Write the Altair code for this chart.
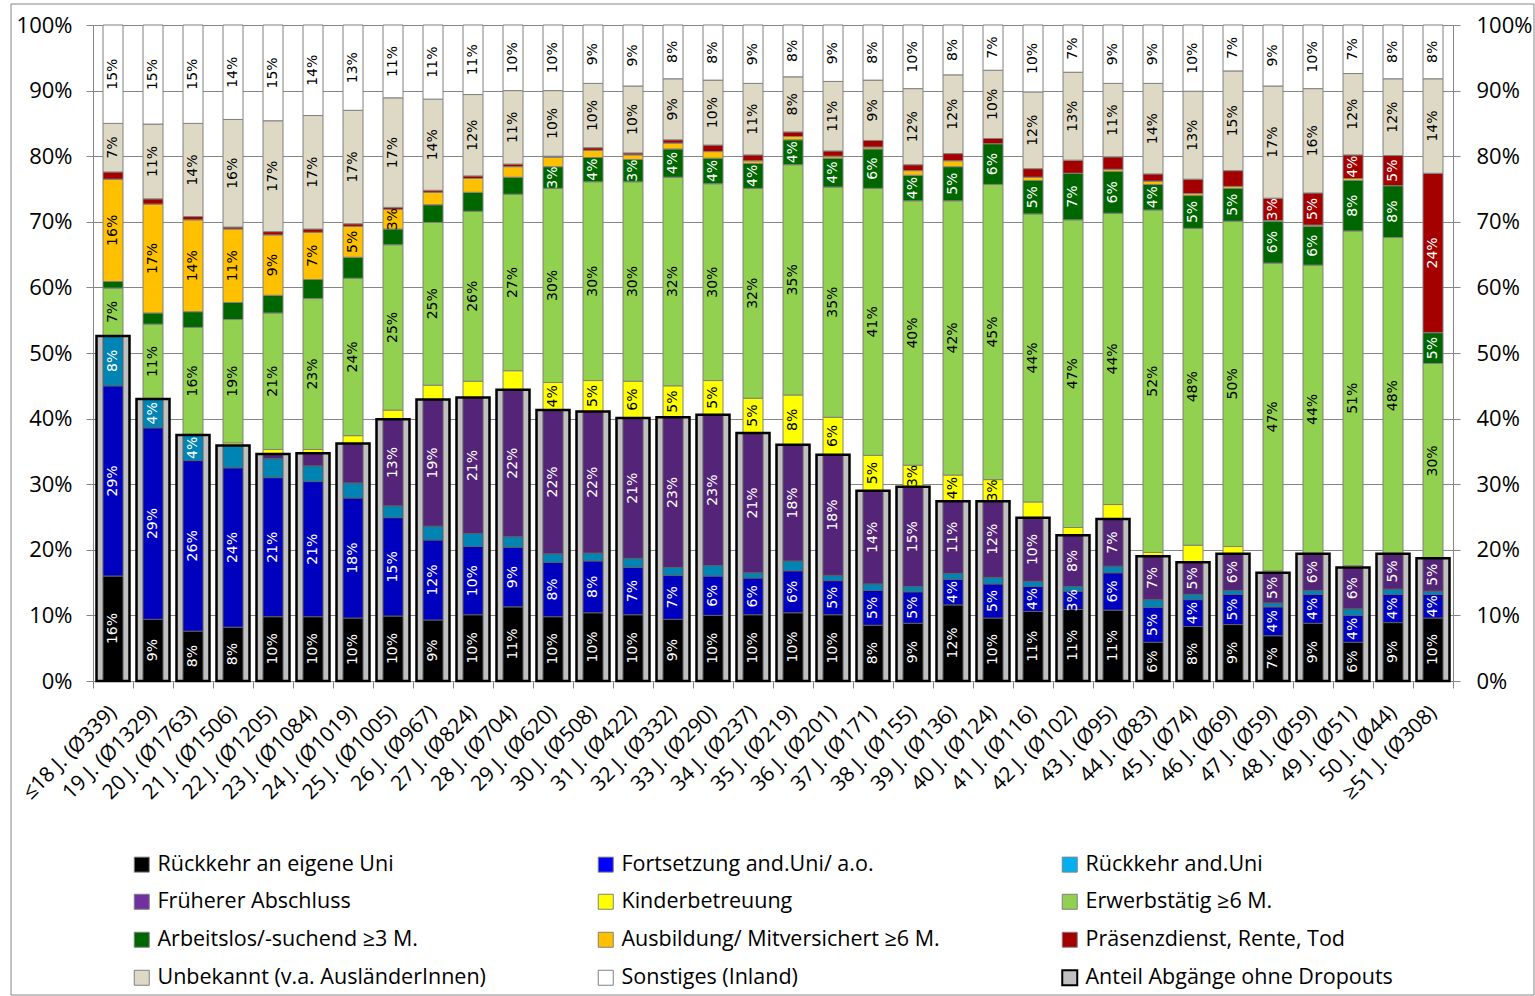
import altair as alt
import pandas as pd

# Age groups and average counts shown on the category axis
AGES = ["≤18", "19", "20", "21", "22", "23", "24", "25", "26", "27", "28", "29",
        "30", "31", "32", "33", "34", "35", "36", "37", "38", "39", "40", "41",
        "42", "43", "44", "45", "46", "47", "48", "49", "50", "≥51"]
COUNTS = [339, 1329, 1763, 1506, 1205, 1084, 1019, 1005, 967, 824, 704, 620,
          508, 422, 332, 290, 237, 219, 201, 171, 155, 136, 124, 116,
          102, 95, 83, 74, 69, 59, 59, 51, 44, 308]
CATEGORIES = [f"{a} J. (Ø{n})" for a, n in zip(AGES, COUNTS)]

# Shares in percent, stacked bottom to top in this order
RUECKKEHR_EIGENE = [16.0, 9.4, 7.6, 8.2, 9.8, 9.8, 9.6, 9.9, 9.3, 10.1, 11.3, 9.8,
                    10.4, 10.1, 9.4, 10.0, 10.1, 10.4, 10.1, 8.5, 8.8, 11.6, 9.6, 10.6,
                    10.9, 10.8, 5.9, 8.3, 8.6, 6.9, 8.8, 5.9, 8.9, 9.6]
FORTSETZUNG = [29.0, 29.2, 26.0, 24.3, 21.2, 20.6, 18.3, 15.0, 12.2, 10.4, 9.1, 8.3,
               7.9, 7.2, 6.7, 6.0, 5.6, 6.4, 5.2, 5.3, 4.8, 3.9, 5.2, 3.8,
               2.8, 5.7, 5.3, 4.1, 4.6, 4.4, 4.4, 4.1, 4.3, 3.6]
RUECKKEHR_ANDERE = [7.6, 4.4, 3.9, 3.4, 2.9, 2.4, 2.3, 1.8, 2.1, 2.0, 1.6, 1.3,
                    1.2, 1.4, 1.2, 1.6, 0.8, 1.5, 0.8, 1.0, 0.8, 0.9, 1.0, 0.8,
                    0.7, 1.0, 1.2, 0.8, 0.6, 0.6, 0.6, 1.0, 0.8, 0.5]
FRUEHERER_ABSCHLUSS = [0.0, 0.0, 0.0, 0.0, 0.7, 1.9, 6.0, 13.2, 19.3, 20.7, 22.4, 21.9,
                       21.6, 21.4, 22.9, 23.0, 21.3, 17.7, 18.4, 14.2, 15.2, 11.0, 11.6, 9.7,
                       7.8, 7.2, 6.6, 4.9, 5.6, 4.6, 5.6, 6.3, 5.4, 5.0]
KINDERBETREUUNG = [0.0, 0.0, 0.1, 0.4, 0.7, 0.6, 1.2, 1.4, 2.2, 2.5, 2.9, 4.2,
                   4.7, 5.6, 4.8, 5.2, 5.3, 7.6, 5.7, 5.4, 3.3, 4.0, 3.3, 2.4,
                   1.2, 2.2, 0.6, 2.6, 1.1, 0.3, 0.0, 0.3, 0.0, 0.0]
ERWERBSTAETIG = [7.3, 11.4, 16.3, 18.8, 20.8, 23.0, 24.0, 25.2, 24.8, 25.9, 26.9, 29.6,
                 30.3, 30.4, 31.8, 30.0, 32.0, 35.1, 35.1, 40.7, 40.3, 41.8, 45.0, 43.9,
                 46.9, 44.4, 52.2, 48.3, 49.6, 46.9, 44.0, 51.0, 48.2, 29.7]
ARBEITSLOS = [1.0, 1.7, 2.4, 2.6, 2.7, 2.9, 3.2, 2.4, 2.7, 2.9, 2.6, 3.3,
              3.7, 3.4, 4.3, 3.9, 3.8, 3.8, 4.4, 6.0, 3.9, 5.2, 6.2, 5.1,
              7.1, 6.4, 3.9, 5.0, 5.0, 6.4, 5.9, 7.7, 7.9, 4.7]
AUSBILDUNG = [15.6, 16.6, 14.0, 11.2, 9.2, 7.2, 4.7, 3.0, 1.9, 2.1, 1.6, 1.4,
              1.1, 0.7, 0.9, 1.0, 0.4, 0.5, 0.3, 0.3, 0.7, 0.9, 0.0, 0.5,
              0.0, 0.3, 0.5, 0.3, 0.3, 0.1, 0.2, 0.3, 0.0, 0.0]
PRAESENZDIENST = [1.1, 0.8, 0.5, 0.3, 0.5, 0.5, 0.4, 0.3, 0.3, 0.4, 0.4, 0.2,
                  0.4, 0.3, 0.5, 1.0, 0.9, 0.7, 0.8, 1.0, 0.9, 1.1, 0.8, 1.3,
                  2.0, 1.9, 1.1, 2.2, 2.4, 3.4, 4.9, 3.6, 4.6, 24.3]
UNBEKANNT = [7.4, 11.4, 14.2, 16.4, 16.9, 17.3, 17.3, 16.7, 13.9, 12.4, 11.2, 10.0,
             9.8, 10.2, 9.3, 9.9, 10.9, 8.4, 10.6, 9.2, 11.6, 12.0, 10.4, 11.7,
             13.4, 11.2, 13.8, 13.4, 15.2, 17.1, 15.9, 12.4, 11.7, 14.4]
SONSTIGES = [15.0, 15.1, 15.0, 14.4, 14.6, 13.8, 13.0, 11.1, 11.3, 10.6, 10.0, 10.0,
             8.9, 9.3, 8.2, 8.4, 8.9, 7.9, 8.6, 8.4, 9.7, 7.6, 6.9, 10.2,
             7.2, 8.9, 8.9, 10.1, 7.0, 9.3, 9.7, 7.4, 8.2, 8.2]

SERIES = [
    ("Rückkehr an eigene Uni", RUECKKEHR_EIGENE, "#000000", "white"),
    ("Fortsetzung and.Uni/ a.o.", FORTSETZUNG, "#0000FF", "white"),
    ("Rückkehr and.Uni", RUECKKEHR_ANDERE, "#00B0F0", "white"),
    ("Früherer Abschluss", FRUEHERER_ABSCHLUSS, "#7030A0", "white"),
    ("Kinderbetreuung", KINDERBETREUUNG, "#FFFF00", "black"),
    ("Erwerbstätig ≥6 M.", ERWERBSTAETIG, "#92D050", "black"),
    ("Arbeitslos/-suchend ≥3 M.", ARBEITSLOS, "#006600", "white"),
    ("Ausbildung/ Mitversichert ≥6 M.", AUSBILDUNG, "#FFC000", "black"),
    ("Präsenzdienst, Rente, Tod", PRAESENZDIENST, "#A50000", "white"),
    ("Unbekannt (v.a. AusländerInnen)", UNBEKANNT, "#DDD9C4", "black"),
    ("Sonstiges (Inland)", SONSTIGES, "#FFFFFF", "black"),
]
ANTEIL_NAME = "Anteil Abgänge ohne Dropouts"
ANTEIL_COLOR = "#C0C0C0"
N_RETURN = 4  # bottom segments that make up the share without dropouts

# Segments whose value is not printed
UNLABELED = {
    "Rückkehr and.Uni": ["21", "22"],
    "Früherer Abschluss": ["24"],
    "Kinderbetreuung": ["27", "28", "45"],
    "Arbeitslos/-suchend ≥3 M.": ["21", "22", "23", "24", "26", "27", "28"],
}

seg_rows, share_rows = [], []
for i, cat in enumerate(CATEGORIES):
    base = 0.0
    for order, (name, values, _, text_color) in enumerate(SERIES):
        v = values[i]
        start, end = base, base + v
        base = end
        if v <= 0:
            continue
        show = v >= 2.5 and AGES[i] not in UNLABELED.get(name, [])
        seg_rows.append({
            "cat": cat, "series": name, "order": order,
            "start": start, "end": end, "mid": (start + end) / 2,
            "label": f"{v:.0f}%" if show else "", "tcolor": text_color,
        })
    share_rows.append({"cat": cat, "series": ANTEIL_NAME,
                       "anteil": sum(s[1][i] for s in SERIES[:N_RETURN])})

segments = pd.DataFrame(seg_rows)
shares = pd.DataFrame(share_rows)

DOMAIN = [s[0] for s in SERIES] + [ANTEIL_NAME]
RANGE = [s[2] for s in SERIES] + [ANTEIL_COLOR]

W, H = 1360, 656
FONT = "Open Sans"
GRID = "#868686"
PCT = [0, 10, 20, 30, 40, 50, 60, 70, 80, 90, 100]

x_enc = alt.X(
    "cat:N", sort=CATEGORIES,
    scale=alt.Scale(domain=CATEGORIES, paddingInner=0, paddingOuter=0),
    axis=alt.Axis(title=None, labelAngle=-45, labelFont=FONT, labelFontSize=21,
                  labelColor="black", labelAlign="right", labelBaseline="middle",
                  labelPadding=21, labelLimit=300,
                  domainColor=GRID, tickColor=GRID, tickSize=7, tickBand="extent",
                  grid=False),
)
y_scale = alt.Scale(domain=[0, 100], nice=False, zero=True)

legend = alt.Legend(
    title=None, orient="none", legendX=38, legendY=828, columns=3,
    direction="horizontal", gridAlign="all", columnPadding=108, rowPadding=14,
    symbolType="square", symbolSize=225,
    symbolStrokeColor={"expr": f"datum.label === '{ANTEIL_NAME}' ? '#000000' : '#808080'"},
    symbolStrokeWidth={"expr": f"datum.label === '{ANTEIL_NAME}' ? 2 : 1"},
    labelFont=FONT, labelFontSize=21.5, labelColor="black",
    labelLimit=600, labelOffset=5,
)
color_scale = alt.Scale(domain=DOMAIN, range=RANGE)

frame = alt.Chart(pd.DataFrame({"k": [0]})).mark_rect(
    filled=False, stroke=GRID, strokeWidth=1
).encode(x=alt.value(-82), x2=alt.value(W + 81), y=alt.value(-21), y2=alt.value(H + 314))

share_bar = alt.Chart(shares).mark_bar(size=33).encode(
    x=x_enc,
    y=alt.Y("anteil:Q", scale=y_scale,
            axis=alt.Axis(orient="right", title=None, values=PCT, labelExpr="datum.value + '%'",
                          labelFont=FONT, labelFontSize=22, labelColor="black",
                          labelPadding=16, tickSize=7, tickColor=GRID, domainColor=GRID,
                          grid=False)),
    color=alt.Color("series:N", scale=color_scale, legend=legend),
)

stack = alt.Chart(segments).mark_bar(size=20, stroke="#808080", strokeWidth=1).encode(
    x=x_enc,
    y=alt.Y("start:Q", scale=y_scale,
            axis=alt.Axis(title=None, values=PCT, labelExpr="datum.value + '%'",
                          labelFont=FONT, labelFontSize=22, labelColor="black",
                          labelPadding=14, tickSize=7, tickColor=GRID, domainColor=GRID,
                          grid=True, gridColor=GRID, gridWidth=1)),
    y2="end:Q",
    color=alt.Color("series:N", scale=color_scale, legend=legend),
    order=alt.Order("order:Q"),
)

shade = alt.Chart(shares).mark_bar(size=21, color="black", opacity=0.25).encode(
    x=x_enc,
    y=alt.Y("anteil:Q", scale=y_scale, axis=None),
)

outline = alt.Chart(shares).mark_bar(size=33, filled=False, stroke="black", strokeWidth=2.5).encode(
    x=x_enc,
    y=alt.Y("anteil:Q", scale=y_scale, axis=None),
)

labels = alt.Chart(segments).mark_text(
    angle=270, font="DejaVu Sans", fontSize=14, align="center", baseline="middle"
).encode(
    x=x_enc,
    y=alt.Y("mid:Q", scale=y_scale, axis=None),
    text="label:N",
    fill=alt.Fill("tcolor:N", scale=None),
)

chart = alt.layer(frame, share_bar, stack, shade, outline, labels).resolve_scale(
    y="independent"
).properties(
    width=W, height=H, padding={"left": 10, "top": 3, "right": 0, "bottom": 0},
    background="white",
).configure_view(strokeWidth=0)

chart.save("out.html", embed_options={"renderer": "svg", "actions": False})
